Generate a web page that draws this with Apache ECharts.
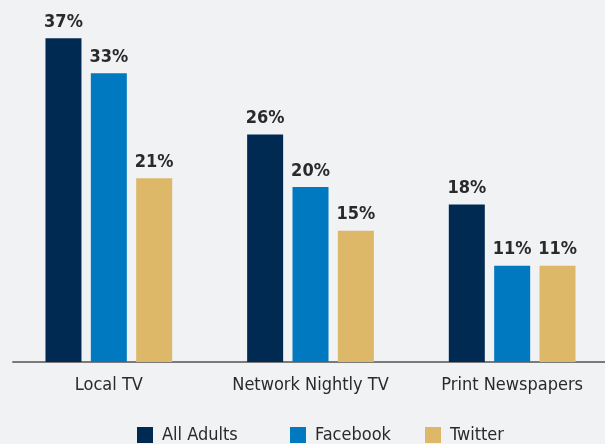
<!DOCTYPE html>
<html>
<head>
<meta charset="utf-8">
<script src="https://cdn.jsdelivr.net/npm/echarts@6/dist/echarts.min.js"></script>
<style>
html,body{margin:0;padding:0;background:#f1f2f4;}
#c{width:605px;height:444px;}
</style>
</head>
<body>
<div id="c"></div>
<script>
const categories = ['Local TV', 'Network Nightly TV', 'Print Newspapers'];
const allAdults = [37, 26, 18];
const facebook = [33, 20, 11];
const twitter = [21, 15, 11];
const seriesNames = ['All Adults', 'Facebook', 'Twitter'];

const FONT = "'DejaVu Sans Condensed', 'Liberation Sans Narrow', sans-serif";
const TXT = '#2a2a2a';
const colors = ['#002a52', '#0079c0', '#dcb868'];

const chart = echarts.init(document.getElementById('c'));
const label = {
  show: true, position: 'top', distance: 7,
  formatter: '{c}%', fontFamily: FONT, fontSize: 18, fontWeight: 'bold', color: TXT
};
function mk(name, data, i) {
  return {
    name: name, type: 'bar', data: data, barWidth: 36, barGap: '26%',
    itemStyle: { color: colors[i] }, label: label, xAxisIndex: 0, yAxisIndex: 0
  };
}
const legendBase = {
  icon: 'rect', itemWidth: 16, itemHeight: 16, itemGap: 0, padding: 0, top: 426,
  textStyle: { fontFamily: FONT, fontSize: 18, color: TXT, lineHeight: 16, padding: [0, 0, 0, 4] }
};
chart.setOption({
  backgroundColor: '#f1f2f4',
  animation: false,
  grid: [
    { left: 8, width: 605, top: 12, bottom: 82, containLabel: false, outerBoundsMode: 'none' },
    { left: 13, right: 0, top: 12, bottom: 82, containLabel: false, outerBoundsMode: 'none' }
  ],
  legend: [
    Object.assign({}, legendBase, { data: [seriesNames[0]], left: 137 }),
    Object.assign({}, legendBase, { data: [seriesNames[1]], left: 290 }),
    Object.assign({}, legendBase, { data: [seriesNames[2]], left: 425 })
  ],
  xAxis: [
    {
      type: 'category', data: categories, gridIndex: 0,
      axisLine: { show: false }, axisTick: { show: false },
      axisLabel: { fontFamily: FONT, fontSize: 18, color: TXT, margin: 14, interval: 0 }
    },
    {
      type: 'value', gridIndex: 1, min: 0, max: 1,
      axisLine: { show: true, lineStyle: { color: '#7a7a7a', width: 2 } },
      axisTick: { show: false }, axisLabel: { show: false }, splitLine: { show: false }
    }
  ],
  yAxis: [
    { type: 'value', min: 0, max: 40, gridIndex: 0, show: false, splitLine: { show: false } },
    { type: 'value', min: 0, max: 1, gridIndex: 1, show: false, splitLine: { show: false } }
  ],
  series: [
    mk(seriesNames[0], allAdults, 0),
    mk(seriesNames[1], facebook, 1),
    mk(seriesNames[2], twitter, 2)
  ]
});
</script>
</body>
</html>
